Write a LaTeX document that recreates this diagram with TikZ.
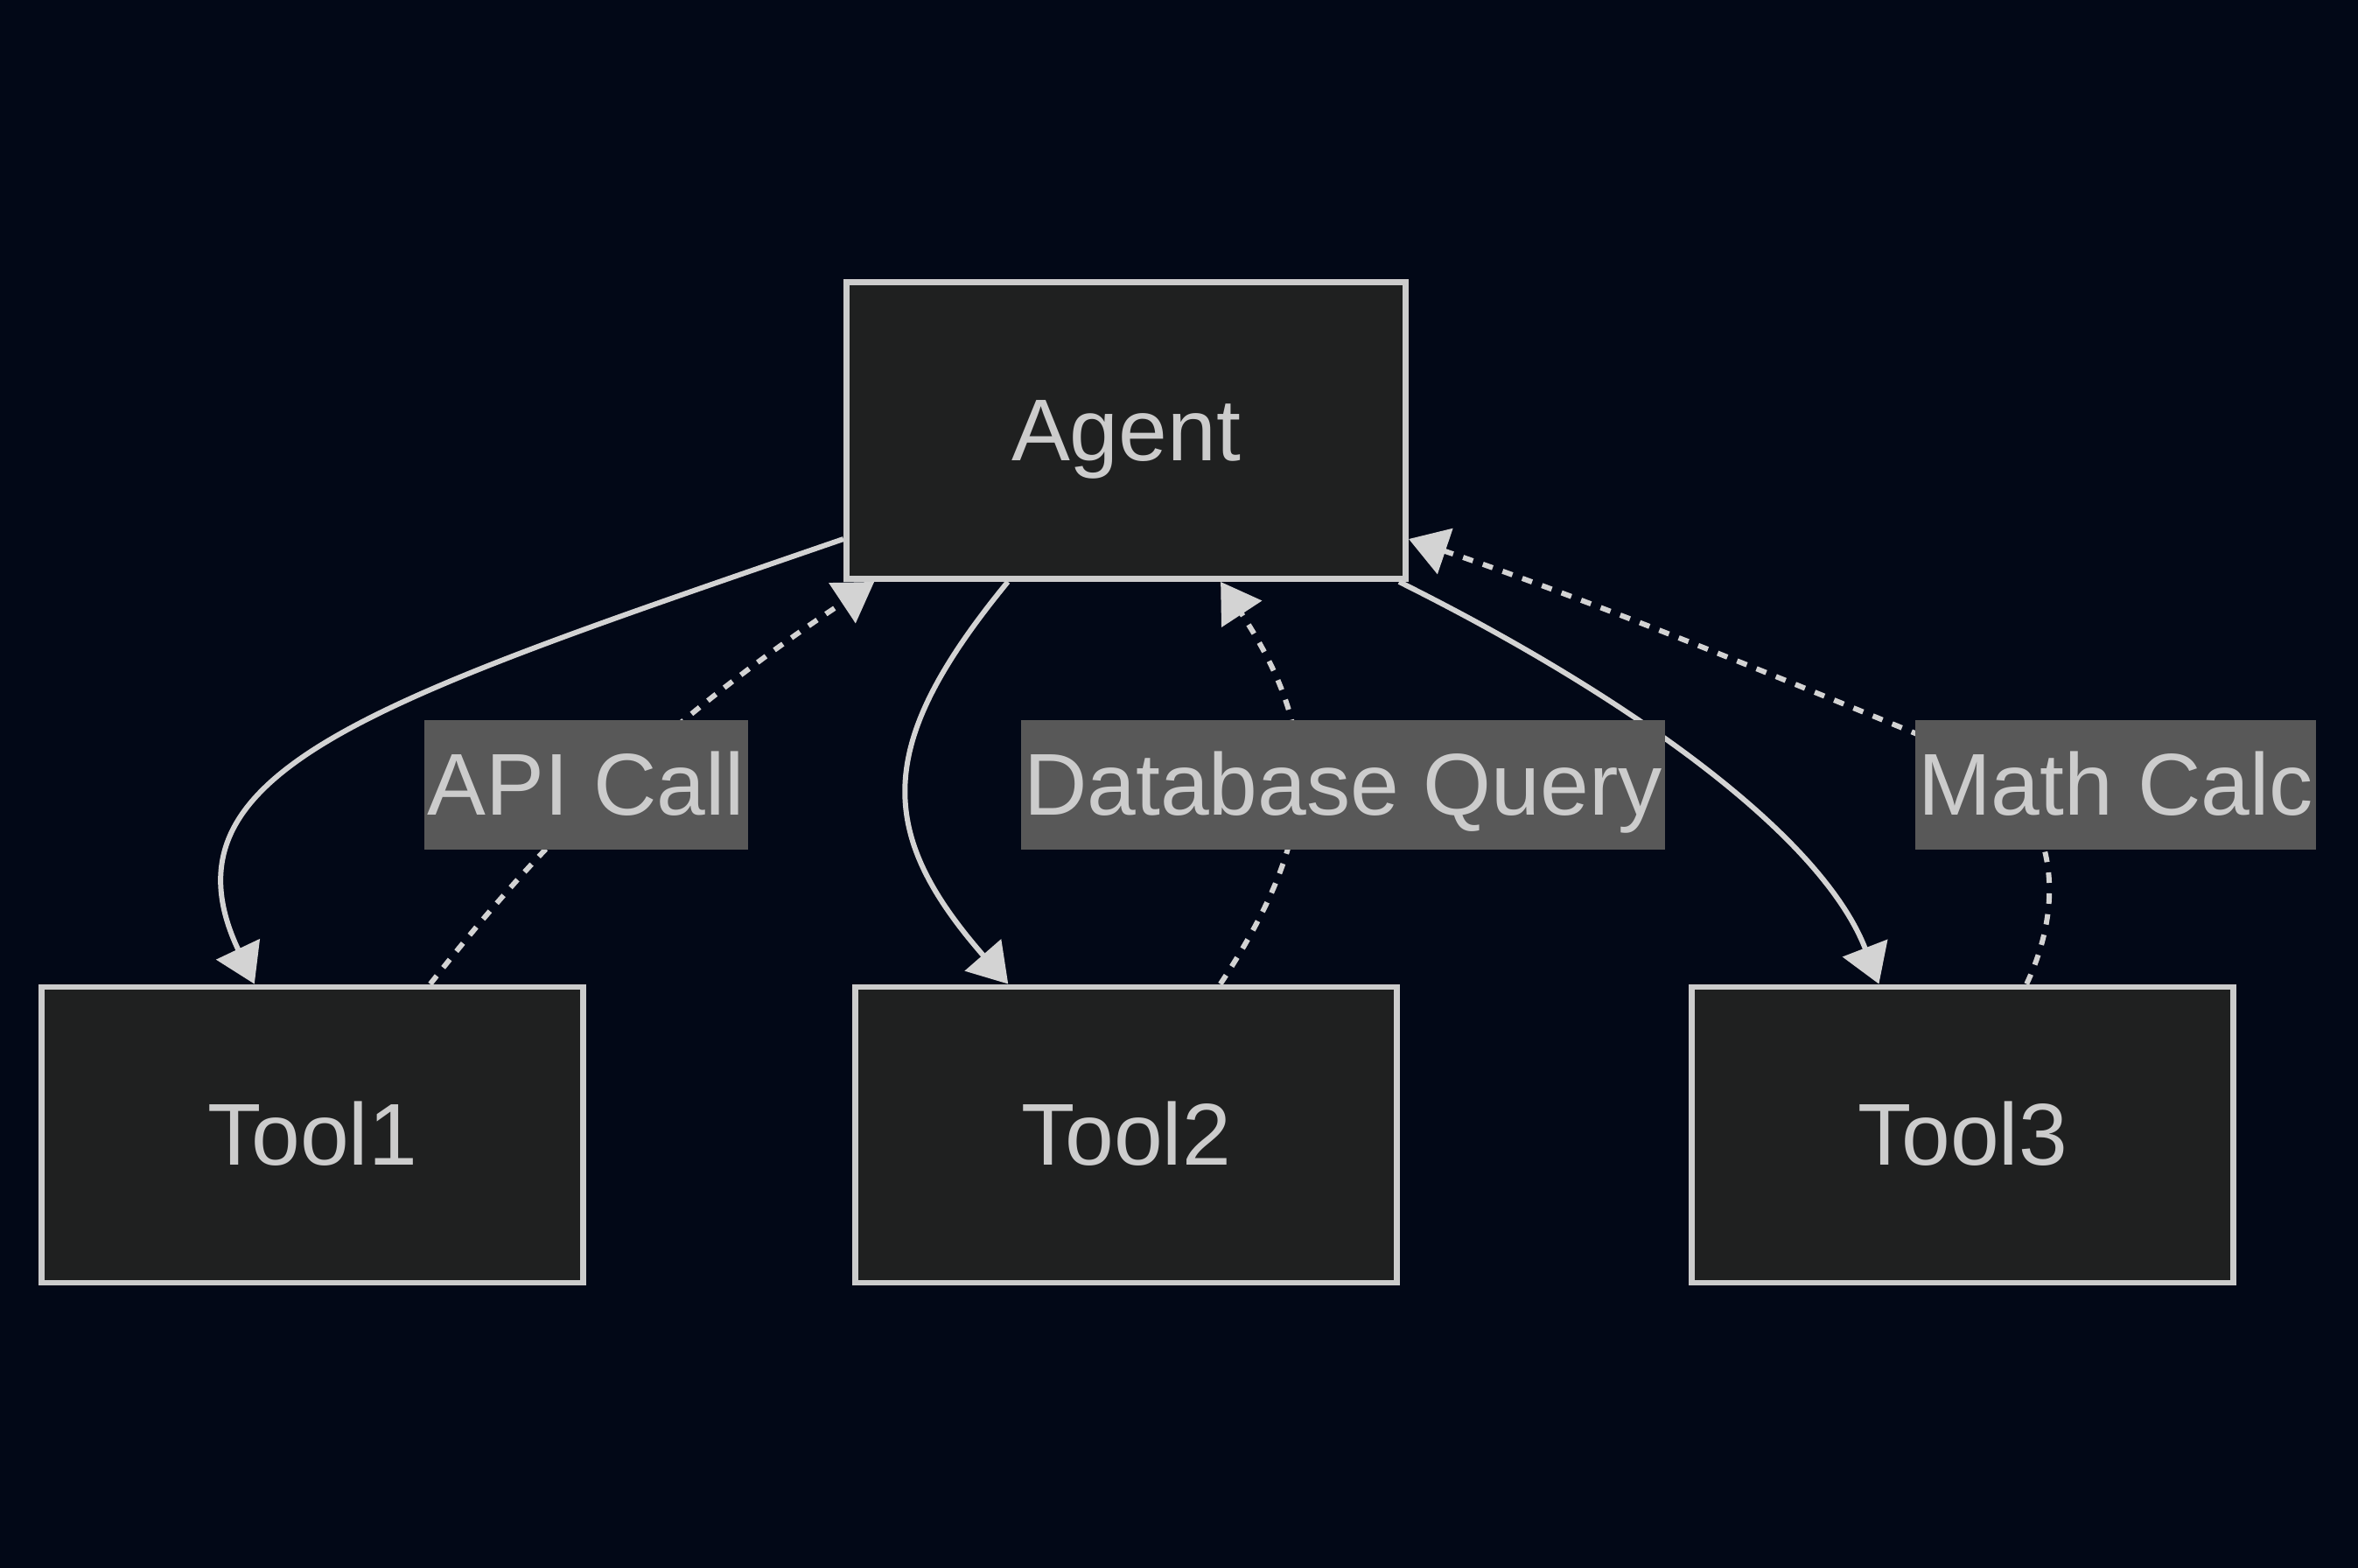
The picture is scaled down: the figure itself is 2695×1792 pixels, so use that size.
\documentclass[tikz,border=0pt]{standalone}
\usepackage{fontspec}
\setmainfont{Liberation Sans}
\usetikzlibrary{arrows.meta}
\definecolor{bgc}{RGB}{2,8,23}
\definecolor{boxc}{RGB}{31,32,32}
\definecolor{linec}{RGB}{204,204,204}
\definecolor{edgec}{RGB}{211,211,211}
\definecolor{labc}{RGB}{88,88,88}

\begin{document}
\begin{tikzpicture}[x=0.01cm,y=-0.01cm,
  box/.style={rectangle,fill=boxc,draw=linec,line width=1.9pt,minimum width=6.19cm,minimum height=3.38cm,
    text=linec,font=\fontsize{28.5}{34}\selectfont,text height=0.74cm,text depth=0.06cm,inner sep=0pt},
  lab/.style={rectangle,fill=labc,text=linec,font=\fontsize{28.5}{34}\selectfont,minimum height=1.48cm,
    text height=0.74cm,text depth=0.06cm,inner xsep=1pt,inner ysep=0pt},
  go/.style={draw=edgec,line width=1.7pt,-{Triangle[length=0.44cm,width=0.54cm]}},
  ret/.style={go,dash pattern=on 3.4pt off 3.4pt}]
  \fill[bgc] (0,0) rectangle (2695,1792);
  % the agent on top, its three tools below
  \node[box,minimum width=6.39cm,minimum height=3.39cm] (agent) at (1287,492) {Agent};
  \node[box] (tool1) at (357,1297) {Tool1};
  \node[box] (tool2) at (1287,1297) {Tool2};
  \node[box] (tool3) at (2243,1297) {Tool3};
  % calls going down, solid
  \draw[go] (agent.201) .. controls (430,800) and (175,880) .. (tool1.111);
  \draw[go] (agent.232) .. controls (1000,850) and (1000,950) .. (tool2.128);
  \draw[go] (agent.-29) .. controls (1850,790) and (2080,950) .. (tool3.119);
  % results coming back up, dotted
  \draw[ret] (tool1.52) .. controls (590,1000) and (720,850) .. (agent.211);
  \draw[ret] (tool2.58) .. controls (1510,950) and (1510,840) .. (agent.302);
  \draw[ret] (tool3.67) .. controls (2370,1010) and (2340,900) .. (2230,855)
    .. controls (2000,760) and (1800,680) .. (agent.-21);
  % edge labels, drawn last so they sit over the lines
  \node[lab] (apicall) at (670,897) {API Call};
  \node[lab] (dbquery) at (1535,897) {Database Query};
  \node[lab] (mathcalc) at (2418,897) {Math Calc};
\end{tikzpicture}
\end{document}
